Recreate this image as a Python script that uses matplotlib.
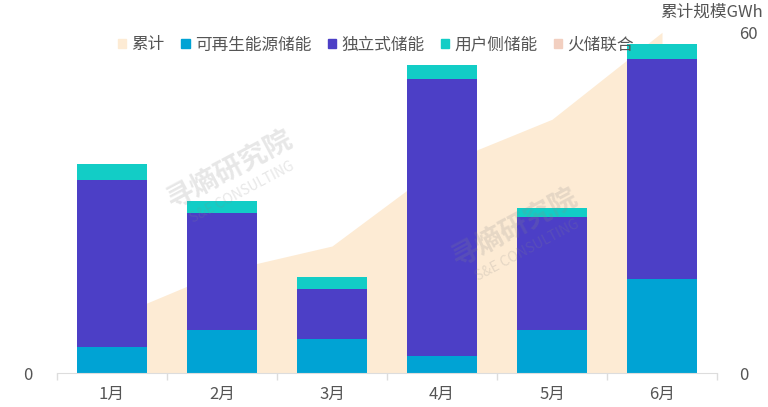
import numpy as np
import matplotlib.pyplot as plt
from matplotlib.patches import Patch

plt.rcParams['font.family'] = ['Noto Sans CJK SC', 'DejaVu Sans']

# 数据（GWh）
months = ['1月', '2月', '3月', '4月', '5月', '6月']
renewable = [1.23, 2.03, 1.61, 0.83, 2.03, 4.41]     # 可再生能源储能
standalone = [7.84, 5.47, 2.34, 13.0, 5.30, 10.36]   # 独立式储能
user_side = [0.74, 0.59, 0.56, 0.62, 0.44, 0.67]     # 用户侧储能
thermal = [0, 0, 0, 0, 0, 0]                         # 火储联合
cumulative = [9.8, 17.9, 22.4, 36.8, 44.7, 60.0]     # 累计

c_cum = '#FDEBD4'
c_ren = '#00A3D4'
c_sta = '#4C3FC6'
c_usr = '#12CDC6'
c_thm = '#F2CFC0'
grey = '#555555'

fig = plt.figure(figsize=(7.68, 4.07), dpi=100)
ax = fig.add_axes([57 / 768, 33.7 / 407, 660 / 768, 341 / 407])
ax2 = ax.twinx()
ax.set_zorder(ax2.get_zorder() + 1)
ax.patch.set_visible(False)

x = np.arange(len(months))

# 累计面积（右轴）
ax2.fill_between(x, 0, cumulative, color=c_cum, lw=0)
ax2.set_ylim(0, 60)
ax2.set_yticks([0, 60])

# 堆叠柱（左轴）
w = 0.63
b1 = np.array(renewable)
b2 = b1 + np.array(standalone)
b3 = b2 + np.array(user_side)
ax.bar(x, renewable, w, color=c_ren, edgecolor='none')
ax.bar(x, standalone, w, bottom=b1, color=c_sta, edgecolor='none')
ax.bar(x, user_side, w, bottom=b2, color=c_usr, edgecolor='none')
ax.bar(x, thermal, w, bottom=b3, color=c_thm, edgecolor='none')
ax.set_ylim(0, 16)
ax.set_yticks([0])
ax.set_xlim(-0.5, len(months) - 0.5)

ax.set_xticks(x)
ax.set_xticklabels(months)
ax.set_xticks(np.arange(-0.5, len(months)), minor=True)
ax.tick_params(axis='x', which='major', length=0, pad=9, labelsize=12, labelcolor=grey)
ax.tick_params(axis='x', which='minor', length=5, color='#DDDDDD', width=1, direction='out')
ax.tick_params(axis='y', length=0, labelsize=12, labelcolor=grey, pad=18)
ax2.tick_params(axis='y', length=0, labelsize=12, labelcolor=grey, pad=16)

for a in (ax, ax2):
    for s in ['top', 'left', 'right']:
        a.spines[s].set_visible(False)
ax.spines['bottom'].set_color('#DDDDDD')
ax2.spines['bottom'].set_visible(False)

fig.text(0.993, 1 - 12 / 407, '累计规模GWh', ha='right', va='center', fontsize=12, color=grey)

handles = [Patch(color=c_cum), Patch(color=c_ren), Patch(color=c_sta),
           Patch(color=c_usr), Patch(color=c_thm)]
labels = ['累计', '可再生能源储能', '独立式储能', '用户侧储能', '火储联合']
fig.legend(handles, labels, loc='center', bbox_to_anchor=(376 / 768, 1 - 45 / 407),
           ncol=5, frameon=False, fontsize=12, handlelength=0.5, handleheight=0.5,
           handletextpad=0.3, columnspacing=1.0, labelcolor=grey)

# 水印
for (wx, wy) in [(230, 170), (515, 228)]:
    fig.text(wx / 768, 1 - wy / 407, '寻熵研究院', fontsize=20, color='#888888', alpha=0.2,
             rotation=28, ha='center', va='center', fontweight='bold')
    fig.text((wx + 12) / 768, 1 - (wy + 22) / 407, 'S&E CONSULTING', fontsize=10,
             color='#888888', alpha=0.2, rotation=28, ha='center', va='center')

fig.savefig('out.png', dpi=100)
